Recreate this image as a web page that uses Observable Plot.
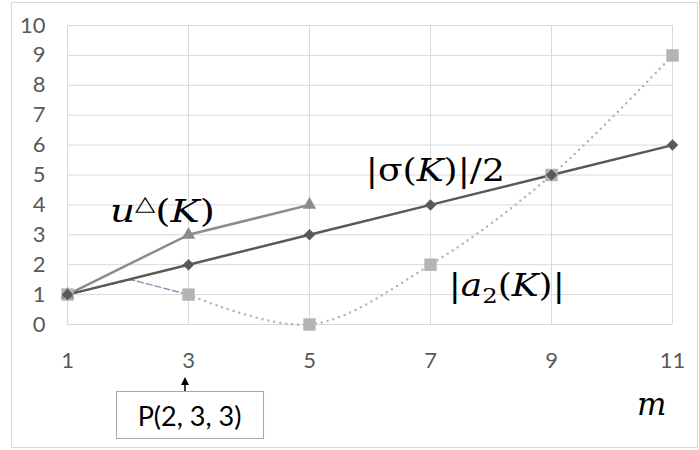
<!DOCTYPE html>
<html>
<head>
<meta charset="utf-8">
<script src="https://cdn.jsdelivr.net/npm/d3@7"></script>
<script src="https://cdn.jsdelivr.net/npm/@observablehq/plot@0.6"></script>
<style>
  html, body { margin: 0; padding: 0; background: #fff; }
  #chart { width: 699px; height: 450px; }
</style>
</head>
<body>
<div id="chart"></div>
<script>
// ---- data ----
const mValues = [1, 3, 5, 7, 9, 11];
const uTriangle = [1, 3, 4];            // for m = 1, 3, 5
const sigmaHalf = [1, 2, 3, 4, 5, 6];
const a2Abs = [1, 1, 0, 2, 5, 9];
const connectorM = [1, 2.05, 3];        // dashed blue-gray segment at start of |a2(K)|
const connectorV = [1, 1.5, 1];
const yTicks = [0, 1, 2, 3, 4, 5, 6, 7, 8, 9, 10];
const xTicks = [1, 3, 5, 7, 9, 11];

const uData = uTriangle.map((v, i) => ({m: mValues[i], v}));
const sData = sigmaHalf.map((v, i) => ({m: mValues[i], v}));
const aData = a2Abs.map((v, i) => ({m: mValues[i], v}));
const aTail = aData.slice(1);
const cData = connectorV.map((v, i) => ({m: connectorM[i], v}));

const W = 699, H = 450;
const tickFont = "Lato, 'Open Sans', sans-serif";

const plot = Plot.plot({
  width: W,
  height: H,
  marginLeft: 67,
  marginRight: 27,
  marginTop: 25,
  marginBottom: 126,
  style: {fontFamily: tickFont, fontSize: "22px", color: "#595959", background: "#fff"},
  x: {domain: [1, 11]},
  y: {domain: [0, 10]},
  marks: [
    Plot.gridY(yTicks, {stroke: "#d9d9d9", strokeOpacity: 1, strokeWidth: 1}),
    Plot.gridX(xTicks, {stroke: "#d9d9d9", strokeOpacity: 1, strokeWidth: 1}),
    Plot.axisY(yTicks, {tickSize: 0, tickPadding: 22, label: null, fontSize: 22, tickFormat: d => String(d)}),
    Plot.axisX(xTicks, {tickSize: 0, tickPadding: 28, label: null, fontSize: 22, tickFormat: d => String(d)}),
    // |a2(K)| dotted smooth line
    Plot.line(aTail, {x: "m", y: "v", stroke: "#b4b4b4", strokeWidth: 2.5, strokeDasharray: "0 6", strokeLinecap: "round", curve: "catmull-rom"}),
    // dashed connector
    Plot.line(cData, {x: "m", y: "v", stroke: "#8497b0", strokeWidth: 1.5, strokeDasharray: "6 3"}),
    // u triangle line
    Plot.line(uData, {x: "m", y: "v", stroke: "#8c8c8c", strokeWidth: 2.5}),
    // sigma line
    Plot.line(sData, {x: "m", y: "v", stroke: "#595959", strokeWidth: 2.5}),
    Plot.dot(aData, {x: "m", y: "v", symbol: "square", r: 7, fill: "#b4b4b4", stroke: "none"}),
    Plot.dot(uData, {x: "m", y: "v", symbol: "triangle", r: 5, fill: "#8c8c8c", stroke: "none"}),
    Plot.dot(sData, {x: "m", y: "v", symbol: "square", r: 4.6, rotate: 45, fill: "#595959", stroke: "none"})
  ]
});

document.getElementById("chart").appendChild(plot);

const svg = d3.select(plot);
const xs = plot.scale("x"), ys = plot.scale("y");
const X = v => xs.apply(v), Y = v => ys.apply(v);

// enforce tick label size on all axis texts
svg.selectAll("g[aria-label*='axis'] text")
  .style("font-size", "22px").style("font-family", tickFont);

// outer chart border
svg.insert("rect", ":first-child")
  .attr("x", 11.5).attr("y", 2.5).attr("width", 686).attr("height", 445)
  .attr("fill", "none").attr("stroke", "#d9d9d9").attr("stroke-width", 1);

const serif = "'DejaVu Serif', 'Liberation Serif', serif";
const g = svg.append("g").attr("fill", "#000").attr("font-family", serif).attr("text-anchor", "start");

// u^△(K)
const t1 = g.append("text").attr("x", X(1.71)).attr("y", Y(3.41)).attr("font-size", 31)
  .attr("textLength", 105).attr("lengthAdjust", "spacingAndGlyphs");
t1.append("tspan").attr("font-style", "italic").text("u");
t1.append("tspan").attr("dy", -12).attr("font-size", 21).attr("font-family", "'DejaVu Sans', sans-serif").text("△");
t1.append("tspan").attr("dy", 12).text("(");
t1.append("tspan").attr("font-style", "italic").text("K");
t1.append("tspan").text(")");

// |σ(K)|/2
const t2 = g.append("text").attr("x", X(5.94)).attr("y", Y(4.78)).attr("font-size", 31)
  .attr("textLength", 139).attr("lengthAdjust", "spacingAndGlyphs");
t2.append("tspan").text("|σ(");
t2.append("tspan").attr("font-style", "italic").text("K");
t2.append("tspan").text(")|/2");

// |a2(K)|
const t3 = g.append("text").attr("x", X(7.31)).attr("y", Y(0.94)).attr("font-size", 31)
  .attr("textLength", 116).attr("lengthAdjust", "spacingAndGlyphs");
t3.append("tspan").text("|");
t3.append("tspan").attr("font-style", "italic").text("a");
t3.append("tspan").attr("dy", 7).attr("font-size", 21).text("2");
t3.append("tspan").attr("dy", -7).text("(");
t3.append("tspan").attr("font-style", "italic").text("K");
t3.append("tspan").text(")|");

// m axis title
g.append("text").attr("x", X(10.42)).attr("y", Y(-3.06)).attr("font-size", 31)
  .attr("font-style", "italic").text("m");

// P(2, 3, 3) callout box
const bx0 = X(1.81), bx1 = X(4.24), by0 = Y(-2.24), by1 = Y(-3.81);
svg.append("rect").attr("x", bx0 + 0.5).attr("y", by0 + 0.5)
  .attr("width", bx1 - bx0).attr("height", by1 - by0)
  .attr("fill", "#fff").attr("stroke", "#a6a6a6").attr("stroke-width", 1);
svg.append("text").attr("x", (bx0 + bx1) / 2).attr("y", (by0 + by1) / 2 + 1)
  .attr("text-anchor", "middle").attr("dominant-baseline", "central")
  .attr("font-family", tickFont).attr("font-size", 27)
  .attr("fill", "#000").text("P(2, 3, 3)");

// arrow
const ax = X(2.95);
svg.append("line").attr("x1", ax).attr("x2", ax).attr("y1", by0).attr("y2", Y(-1.9))
  .attr("stroke", "#000").attr("stroke-width", 1.5);
svg.append("path")
  .attr("d", `M${ax},${Y(-1.77)} L${ax - 4},${Y(-1.77) + 8} L${ax + 4},${Y(-1.77) + 8} Z`)
  .attr("fill", "#000");
</script>
</body>
</html>
